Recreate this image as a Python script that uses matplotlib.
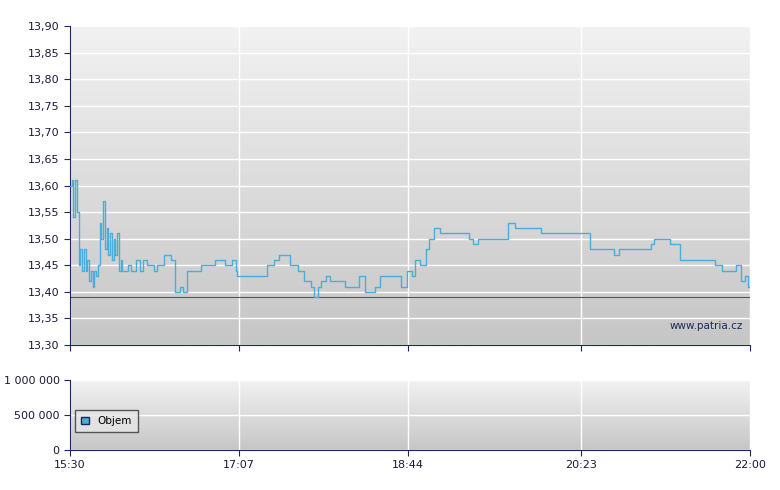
import matplotlib
matplotlib.use("Agg")
import matplotlib.pyplot as plt
import numpy as np

minutes = [0,1,2,3,4,5,6,7,8,9,10,11,12,13,14,15,16,17,18,19,20,21,22,23,24,25,26,27,28,29,30,33,35,38,40,42,44,46,48,50,54,58,60,63,65,67,69,75,80,83,89,93,95,96,103,112,113,117,120,123,126,131,134,138,140,142,144,147,149,155,158,166,169,175,178,188,190,193,196,198,201,204,206,209,212,218,229,231,234,238,250,251,255,261,270,281,295,298,310,312,315,327,333,335,341,344,350,361,370,374,378,382,385,387,389,390]
prices = [13.60,13.61,13.54,13.61,13.55,13.45,13.48,13.44,13.48,13.44,13.46,13.42,13.44,13.41,13.44,13.43,13.45,13.53,13.50,13.57,13.48,13.52,13.47,13.51,13.46,13.50,13.47,13.51,13.44,13.46,13.44,13.45,13.44,13.46,13.44,13.46,13.45,13.45,13.44,13.45,13.47,13.46,13.40,13.41,13.40,13.44,13.44,13.45,13.45,13.46,13.45,13.46,13.44,13.43,13.43,13.43,13.45,13.46,13.47,13.47,13.45,13.44,13.42,13.41,13.39,13.41,13.42,13.43,13.42,13.42,13.41,13.43,13.40,13.41,13.43,13.43,13.41,13.44,13.43,13.46,13.45,13.48,13.50,13.52,13.51,13.51,13.50,13.49,13.50,13.50,13.50,13.53,13.52,13.52,13.51,13.51,13.51,13.48,13.48,13.47,13.48,13.48,13.49,13.50,13.50,13.49,13.46,13.46,13.45,13.44,13.44,13.45,13.42,13.43,13.41,13.41]
prev_close = 13.39
volume = [0]*len(minutes)
xtick_pos = [0, 97, 194, 293, 390]
xtick_labels = ["15:30", "17:07", "18:44", "20:23", "22:00"]
yticks = [13.30 + 0.05*i for i in range(13)]
vticks = [0, 500000, 1000000]
vtick_labels = ["0", "500 000", "1 000 000"]

navy = "#1a2a5a"
fig = plt.figure(figsize=(7.8, 4.9), dpi=100)
ax = fig.add_axes([70/780, 145/490, 680/780, 319/490])
axv = fig.add_axes([70/780, 40/490, 680/780, 70/490])

grad = np.linspace(0, 1, 256).reshape(-1, 1)
from matplotlib.colors import LinearSegmentedColormap
cm = LinearSegmentedColormap.from_list("g", ["#f2f2f2", "#c6c6c6"])
for a in (ax, axv):
    a.imshow(grad, extent=[0, 1, 0, 1], transform=a.transAxes, aspect="auto", cmap=cm, zorder=0)
    a.set_xlim(0, 390)
    a.set_xticks(xtick_pos)
    a.grid(True, color="white", lw=1, zorder=1)
    for s in ("top", "right"):
        a.spines[s].set_visible(False)
    for s in ("left", "bottom"):
        a.spines[s].set_color(navy)
    a.tick_params(colors=navy, labelcolor="#1a1a3a", labelsize=8, length=4)

ax.step(minutes, prices, where="post", color="#4aaed8", lw=1, zorder=3)
ax.axhline(prev_close, color="#555555", lw=0.8, zorder=2)
ax.set_ylim(13.30, 13.90)
ax.set_yticks(yticks)
ax.set_yticklabels([f"{v:.2f}".replace(".", ",") for v in yticks])
ax.set_xticklabels([])
ax.text(0.99, 0.06, "www.patria.cz", transform=ax.transAxes, ha="right", va="center",
        fontsize=7.5, color="#1a2a5a", zorder=4)

axv.bar(minutes, volume, color="#4aaed8", zorder=3)
axv.set_ylim(0, 1000000)
axv.set_yticks(vticks)
axv.set_yticklabels(vtick_labels)
axv.set_xticklabels(xtick_labels)
leg = axv.legend(handles=[plt.Rectangle((0, 0), 1, 1, fc="#4aaed8", ec="#1a2a5a")], labels=["Objem"],
                 loc="upper left", bbox_to_anchor=(0.0, 0.65), fontsize=7.5, frameon=True,
                 fancybox=False, handlelength=0.7, handleheight=0.7, borderpad=0.6)
leg.get_frame().set_edgecolor("#333333")
leg.get_frame().set_facecolor("#e6e6e6")
fig.savefig("out.png", dpi=100)
